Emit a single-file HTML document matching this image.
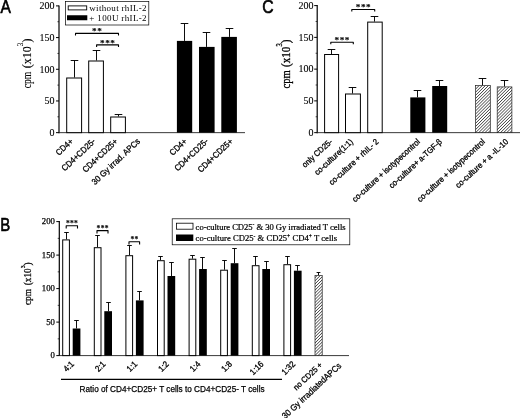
<!DOCTYPE html>
<html><head><meta charset="utf-8"><title>Figure</title>
<style>html,body{margin:0;padding:0;background:#fff}svg{display:block}</style></head>
<body><svg width="520" height="418" viewBox="0 0 520 418">
<rect width="520" height="418" fill="#fff"/>
<defs><pattern id="hatch" width="2.2" height="2.2" patternUnits="userSpaceOnUse" patternTransform="rotate(-45)"><rect width="2.2" height="2.2" fill="#fff"/><line x1="0" y1="1.1" x2="2.2" y2="1.1" stroke="#444" stroke-width="0.75"/></pattern></defs>
<text x="0.6" y="12.6" font-family='"Liberation Sans", sans-serif' font-size="18" text-anchor="start" stroke="#000" stroke-width="0.6" textLength="10.4" lengthAdjust="spacingAndGlyphs">A</text>
<line x1="59" y1="5.4" x2="59" y2="133.15" stroke="#000" stroke-width="1.2"/>
<line x1="56" y1="5.9" x2="59" y2="5.9" stroke="#000" stroke-width="1.0"/>
<text x="54.4" y="9.200000000000001" font-family='"Liberation Serif", serif' font-size="10" text-anchor="end" stroke="#000" stroke-width="0.1">200</text>
<line x1="56" y1="37.5875" x2="59" y2="37.5875" stroke="#000" stroke-width="1.0"/>
<text x="54.4" y="40.887499999999996" font-family='"Liberation Serif", serif' font-size="10" text-anchor="end" stroke="#000" stroke-width="0.1">150</text>
<line x1="56" y1="69.275" x2="59" y2="69.275" stroke="#000" stroke-width="1.0"/>
<text x="54.4" y="72.575" font-family='"Liberation Serif", serif' font-size="10" text-anchor="end" stroke="#000" stroke-width="0.1">100</text>
<line x1="56" y1="100.9625" x2="59" y2="100.9625" stroke="#000" stroke-width="1.0"/>
<text x="54.4" y="104.2625" font-family='"Liberation Serif", serif' font-size="10" text-anchor="end" stroke="#000" stroke-width="0.1">50</text>
<line x1="56" y1="132.65" x2="59" y2="132.65" stroke="#000" stroke-width="1.0"/>
<text x="54.4" y="135.95000000000002" font-family='"Liberation Serif", serif' font-size="10" text-anchor="end" stroke="#000" stroke-width="0.1">0</text>
<line x1="57.4" y1="21.74375" x2="59" y2="21.74375" stroke="#000" stroke-width="0.7"/>
<line x1="57.4" y1="53.43125" x2="59" y2="53.43125" stroke="#000" stroke-width="0.7"/>
<line x1="57.4" y1="85.11875" x2="59" y2="85.11875" stroke="#000" stroke-width="0.7"/>
<line x1="57.4" y1="116.80625" x2="59" y2="116.80625" stroke="#000" stroke-width="0.7"/>
<line x1="59" y1="132.65" x2="245" y2="132.65" stroke="#222" stroke-width="0.9"/>
<text x="30.8" y="88.3" font-family='"Liberation Serif", serif' font-size="12" text-anchor="start" transform="rotate(-90 30.8 88.3)" textLength="16.6" lengthAdjust="spacingAndGlyphs" stroke="#000" stroke-width="0.1">cpm</text>
<text x="30.8" y="68.2" font-family='"Liberation Serif", serif' font-size="12" text-anchor="start" transform="rotate(-90 30.8 68.2)" textLength="29.6" lengthAdjust="spacingAndGlyphs" stroke="#000" stroke-width="0.1">(x10<tspan font-size="7.2" dy="-8.2">3</tspan><tspan dy="8.2">)</tspan></text>
<line x1="74.5" y1="60.5" x2="74.5" y2="77.5" stroke="#000" stroke-width="0.95"/>
<line x1="70.7" y1="60.5" x2="78.3" y2="60.5" stroke="#000" stroke-width="0.95"/>
<rect x="66.7" y="78.0" width="14.899999999999991" height="54.650000000000006" fill="#fff" stroke="#000" stroke-width="1"/>
<line x1="96.5" y1="50.5" x2="96.5" y2="60.5" stroke="#000" stroke-width="0.95"/>
<line x1="92.7" y1="50.5" x2="100.3" y2="50.5" stroke="#000" stroke-width="0.95"/>
<rect x="88.7" y="61.0" width="14.700000000000003" height="71.65" fill="#fff" stroke="#000" stroke-width="1"/>
<line x1="118.5" y1="114.5" x2="118.5" y2="116.5" stroke="#000" stroke-width="0.95"/>
<line x1="114.7" y1="114.5" x2="122.3" y2="114.5" stroke="#000" stroke-width="0.95"/>
<rect x="110.7" y="117.0" width="14.700000000000003" height="15.650000000000006" fill="#fff" stroke="#000" stroke-width="1"/>
<line x1="184.5" y1="23.5" x2="184.5" y2="40.9" stroke="#000" stroke-width="0.95"/>
<line x1="180.7" y1="23.5" x2="188.3" y2="23.5" stroke="#000" stroke-width="0.95"/>
<rect x="176.9" y="40.9" width="15.299999999999983" height="91.75" fill="#000"/>
<line x1="206.5" y1="32.5" x2="206.5" y2="46.9" stroke="#000" stroke-width="0.95"/>
<line x1="202.7" y1="32.5" x2="210.3" y2="32.5" stroke="#000" stroke-width="0.95"/>
<rect x="199" y="46.9" width="15.599999999999994" height="85.75" fill="#000"/>
<line x1="229.5" y1="28.5" x2="229.5" y2="36.9" stroke="#000" stroke-width="0.95"/>
<line x1="225.7" y1="28.5" x2="233.3" y2="28.5" stroke="#000" stroke-width="0.95"/>
<rect x="221.3" y="36.9" width="15.599999999999994" height="95.75" fill="#000"/>
<rect x="65.4" y="1.5" width="83.4" height="23.5" fill="#fff" stroke="#000" stroke-width="0.7"/>
<rect x="68.2" y="5.9" width="18.5" height="4" fill="#fff" stroke="#000" stroke-width="0.9"/>
<rect x="67" y="15.25" width="20.3" height="5" fill="#000"/>
<text x="89.3" y="10.5" font-family='"Liberation Serif", serif' font-size="9.0" text-anchor="start" textLength="57.3" lengthAdjust="spacing" stroke="none">without rhIL-2</text>
<text x="89.3" y="20.8" font-family='"Liberation Serif", serif' font-size="9.0" text-anchor="start" textLength="57.3" lengthAdjust="spacing" stroke="none">+ 100U rhIL-2</text>
<polyline points="75.5,35.4 75.5,33.4 118.5,33.4 118.5,35.4" fill="none" stroke="#000" stroke-width="1.1" stroke-linejoin="round"/>
<text x="97.2" y="34.0" font-family='"Liberation Serif", serif' font-size="9.2" text-anchor="middle" font-weight="bold" stroke="#000" stroke-width="0.1" letter-spacing="0.5">**</text>
<polyline points="96.6,46.9 96.6,44.9 118.5,44.9 118.5,46.9" fill="none" stroke="#000" stroke-width="1.1" stroke-linejoin="round"/>
<text x="107.75" y="45.5" font-family='"Liberation Serif", serif' font-size="9.2" text-anchor="middle" font-weight="bold" stroke="#000" stroke-width="0.1" letter-spacing="0.5">***</text>
<text x="0" y="0" font-family='"Liberation Sans", sans-serif' font-size="8.56" text-anchor="end" transform="translate(73.7 142.05) rotate(-43.5) scale(0.9174 1)"  stroke="#000" stroke-width="0.3">CD4+</text>
<text x="0" y="0" font-family='"Liberation Sans", sans-serif' font-size="8.56" text-anchor="end" transform="translate(96 142.05) rotate(-43.5) scale(0.9174 1)"  stroke="#000" stroke-width="0.3">CD4+CD25-</text>
<text x="0" y="0" font-family='"Liberation Sans", sans-serif' font-size="8.56" text-anchor="end" transform="translate(118.3 142.05) rotate(-43.5) scale(0.9174 1)"  stroke="#000" stroke-width="0.3">CD4+CD25+</text>
<text x="0" y="0" font-family='"Liberation Sans", sans-serif' font-size="8.56" text-anchor="end" transform="translate(140.6 142.05) rotate(-43.5) scale(0.9174 1)"  stroke="#000" stroke-width="0.3">30 Gy irrad. APCs</text>
<text x="0" y="0" font-family='"Liberation Sans", sans-serif' font-size="8.56" text-anchor="end" transform="translate(187.5 142.05) rotate(-43.5) scale(0.9174 1)"  stroke="#000" stroke-width="0.3">CD4+</text>
<text x="0" y="0" font-family='"Liberation Sans", sans-serif' font-size="8.56" text-anchor="end" transform="translate(208.8 142.05) rotate(-43.5) scale(0.9174 1)"  stroke="#000" stroke-width="0.3">CD4+CD25-</text>
<text x="0" y="0" font-family='"Liberation Sans", sans-serif' font-size="8.56" text-anchor="end" transform="translate(233.5 142.05) rotate(-43.5) scale(0.9174 1)"  stroke="#000" stroke-width="0.3">CD4+CD25+</text>
<text x="262.2" y="12.9" font-family='"Liberation Sans", sans-serif' font-size="18.3" text-anchor="start" stroke="#000" stroke-width="0.6" textLength="11.4" lengthAdjust="spacingAndGlyphs">C</text>
<line x1="317.2" y1="5.1" x2="317.2" y2="133.15" stroke="#000" stroke-width="1.2"/>
<line x1="314.2" y1="5.6" x2="317.2" y2="5.6" stroke="#000" stroke-width="1.0"/>
<text x="313.5" y="8.9" font-family='"Liberation Serif", serif' font-size="10" text-anchor="end" stroke="#000" stroke-width="0.1">200</text>
<line x1="314.2" y1="37.362500000000004" x2="317.2" y2="37.362500000000004" stroke="#000" stroke-width="1.0"/>
<text x="313.5" y="40.6625" font-family='"Liberation Serif", serif' font-size="10" text-anchor="end" stroke="#000" stroke-width="0.1">150</text>
<line x1="314.2" y1="69.125" x2="317.2" y2="69.125" stroke="#000" stroke-width="1.0"/>
<text x="313.5" y="72.425" font-family='"Liberation Serif", serif' font-size="10" text-anchor="end" stroke="#000" stroke-width="0.1">100</text>
<line x1="314.2" y1="100.8875" x2="317.2" y2="100.8875" stroke="#000" stroke-width="1.0"/>
<text x="313.5" y="104.1875" font-family='"Liberation Serif", serif' font-size="10" text-anchor="end" stroke="#000" stroke-width="0.1">50</text>
<line x1="314.2" y1="132.65" x2="317.2" y2="132.65" stroke="#000" stroke-width="1.0"/>
<text x="313.5" y="135.95000000000002" font-family='"Liberation Serif", serif' font-size="10" text-anchor="end" stroke="#000" stroke-width="0.1">0</text>
<line x1="315.59999999999997" y1="21.481250000000003" x2="317.2" y2="21.481250000000003" stroke="#000" stroke-width="0.7"/>
<line x1="315.59999999999997" y1="53.243750000000006" x2="317.2" y2="53.243750000000006" stroke="#000" stroke-width="0.7"/>
<line x1="315.59999999999997" y1="85.00625" x2="317.2" y2="85.00625" stroke="#000" stroke-width="0.7"/>
<line x1="315.59999999999997" y1="116.76875000000001" x2="317.2" y2="116.76875000000001" stroke="#000" stroke-width="0.7"/>
<line x1="317.2" y1="132.65" x2="520" y2="132.65" stroke="#222" stroke-width="0.9"/>
<text x="290.2" y="88.5" font-family='"Liberation Serif", serif' font-size="12" text-anchor="start" transform="rotate(-90 290.2 88.5)" textLength="18.2" lengthAdjust="spacingAndGlyphs" stroke="#000" stroke-width="0.3">cpm</text>
<text x="290.2" y="66.9" font-family='"Liberation Serif", serif' font-size="12" text-anchor="start" transform="rotate(-90 290.2 66.9)" textLength="27.3" lengthAdjust="spacingAndGlyphs" stroke="#000" stroke-width="0.3">(x10<tspan font-size="7.2" dy="-8.2">3</tspan><tspan dy="8.2">)</tspan></text>
<line x1="331.5" y1="49.5" x2="331.5" y2="54" stroke="#000" stroke-width="0.95"/>
<line x1="327.7" y1="49.5" x2="335.3" y2="49.5" stroke="#000" stroke-width="0.95"/>
<rect x="324.6" y="54.5" width="14.0" height="78.15" fill="#fff" stroke="#000" stroke-width="1"/>
<line x1="352.5" y1="87.5" x2="352.5" y2="93.5" stroke="#000" stroke-width="0.95"/>
<line x1="348.7" y1="87.5" x2="356.3" y2="87.5" stroke="#000" stroke-width="0.95"/>
<rect x="345.5" y="94.0" width="14.899999999999977" height="38.650000000000006" fill="#fff" stroke="#000" stroke-width="1"/>
<line x1="374.5" y1="16.5" x2="374.5" y2="21.6" stroke="#000" stroke-width="0.95"/>
<line x1="370.7" y1="16.5" x2="378.3" y2="16.5" stroke="#000" stroke-width="0.95"/>
<rect x="367.7" y="22.1" width="14.5" height="110.55000000000001" fill="#fff" stroke="#000" stroke-width="1"/>
<line x1="417.5" y1="90.5" x2="417.5" y2="97.4" stroke="#000" stroke-width="0.95"/>
<line x1="413.7" y1="90.5" x2="421.3" y2="90.5" stroke="#000" stroke-width="0.95"/>
<rect x="410.3" y="97.4" width="15.099999999999966" height="35.25" fill="#000"/>
<line x1="439.5" y1="80.5" x2="439.5" y2="86" stroke="#000" stroke-width="0.95"/>
<line x1="435.7" y1="80.5" x2="443.3" y2="80.5" stroke="#000" stroke-width="0.95"/>
<rect x="432.2" y="86" width="15.0" height="46.650000000000006" fill="#000"/>
<line x1="482.5" y1="78.5" x2="482.5" y2="85.3" stroke="#000" stroke-width="0.95"/>
<line x1="478.7" y1="78.5" x2="486.3" y2="78.5" stroke="#000" stroke-width="0.95"/>
<rect x="475.6" y="85.6" width="14.700000000000012" height="47.05000000000001" fill="url(#hatch)" stroke="#222" stroke-width="0.7"/>
<line x1="504.5" y1="80.5" x2="504.5" y2="86.6" stroke="#000" stroke-width="0.95"/>
<line x1="500.7" y1="80.5" x2="508.3" y2="80.5" stroke="#000" stroke-width="0.95"/>
<rect x="497.2" y="86.89999999999999" width="14.700000000000069" height="45.750000000000014" fill="url(#hatch)" stroke="#222" stroke-width="0.7"/>
<polyline points="330.8,44.2 330.8,42.2 353.3,42.2 353.3,44.2" fill="none" stroke="#000" stroke-width="1.1" stroke-linejoin="round"/>
<text x="342.25" y="42.800000000000004" font-family='"Liberation Serif", serif' font-size="9.2" text-anchor="middle" font-weight="bold" stroke="#000" stroke-width="0.1" letter-spacing="0.5">***</text>
<polyline points="351.8,11.5 351.8,9.5 374.7,9.5 374.7,11.5" fill="none" stroke="#000" stroke-width="1.1" stroke-linejoin="round"/>
<text x="363.45" y="10.1" font-family='"Liberation Serif", serif' font-size="9.2" text-anchor="middle" font-weight="bold" stroke="#000" stroke-width="0.1" letter-spacing="0.5">***</text>
<text x="0" y="0" font-family='"Liberation Sans", sans-serif' font-size="8.28" text-anchor="end" transform="translate(333.0 142.45000000000002) rotate(-42.5) scale(0.9174 1)"  stroke="#000" stroke-width="0.3">only CD25-</text>
<text x="0" y="0" font-family='"Liberation Sans", sans-serif' font-size="8.28" text-anchor="end" transform="translate(353.6 142.45000000000002) rotate(-42.5) scale(0.9174 1)"  stroke="#000" stroke-width="0.3">co-culture(1:1)</text>
<text x="0" y="0" font-family='"Liberation Sans", sans-serif' font-size="8.28" text-anchor="end" transform="translate(379.1 142.45000000000002) rotate(-42.5) scale(0.9174 1)"  stroke="#000" stroke-width="0.3">co-culture + rhIL- 2</text>
<text x="0" y="0" font-family='"Liberation Sans", sans-serif' font-size="8.28" text-anchor="end" transform="translate(420.6 142.45000000000002) rotate(-42.5) scale(0.9174 1)"  stroke="#000" stroke-width="0.3">co-culture + isotypecontrol</text>
<text x="0" y="0" font-family='"Liberation Sans", sans-serif' font-size="8.28" text-anchor="end" transform="translate(442.6 142.45000000000002) rotate(-42.5) scale(0.9174 1)"  stroke="#000" stroke-width="0.3">co-culture+ a-TGF-β</text>
<text x="0" y="0" font-family='"Liberation Sans", sans-serif' font-size="8.28" text-anchor="end" transform="translate(485.6 142.45000000000002) rotate(-42.5) scale(0.9174 1)"  stroke="#000" stroke-width="0.3">co-culture + isotypecontrol</text>
<text x="0" y="0" font-family='"Liberation Sans", sans-serif' font-size="8.28" text-anchor="end" transform="translate(508.8 142.45000000000002) rotate(-42.5) scale(0.9174 1)"  stroke="#000" stroke-width="0.3">co-culture + a -IL-10</text>
<text x="0.2" y="231.4" font-family='"Liberation Sans", sans-serif' font-size="18" text-anchor="start" stroke="#000" stroke-width="0.6" textLength="10" lengthAdjust="spacingAndGlyphs">B</text>
<line x1="59.3" y1="221.1" x2="59.3" y2="356.1" stroke="#000" stroke-width="1.2"/>
<line x1="56.3" y1="221.6" x2="59.3" y2="221.6" stroke="#000" stroke-width="1.0"/>
<text x="54.9" y="224.471" font-family='"Liberation Serif", serif' font-size="8.7" text-anchor="end" stroke="#000" stroke-width="0.25">200</text>
<line x1="56.3" y1="255.1" x2="59.3" y2="255.1" stroke="#000" stroke-width="1.0"/>
<text x="54.9" y="257.971" font-family='"Liberation Serif", serif' font-size="8.7" text-anchor="end" stroke="#000" stroke-width="0.25">150</text>
<line x1="56.3" y1="288.6" x2="59.3" y2="288.6" stroke="#000" stroke-width="1.0"/>
<text x="54.9" y="291.471" font-family='"Liberation Serif", serif' font-size="8.7" text-anchor="end" stroke="#000" stroke-width="0.25">100</text>
<line x1="56.3" y1="322.1" x2="59.3" y2="322.1" stroke="#000" stroke-width="1.0"/>
<text x="54.9" y="324.971" font-family='"Liberation Serif", serif' font-size="8.7" text-anchor="end" stroke="#000" stroke-width="0.25">50</text>
<line x1="56.3" y1="355.6" x2="59.3" y2="355.6" stroke="#000" stroke-width="1.0"/>
<text x="54.9" y="358.471" font-family='"Liberation Serif", serif' font-size="8.7" text-anchor="end" stroke="#000" stroke-width="0.25">0</text>
<line x1="57.699999999999996" y1="238.35" x2="59.3" y2="238.35" stroke="#000" stroke-width="0.7"/>
<line x1="57.699999999999996" y1="271.85" x2="59.3" y2="271.85" stroke="#000" stroke-width="0.7"/>
<line x1="57.699999999999996" y1="305.35" x2="59.3" y2="305.35" stroke="#000" stroke-width="0.7"/>
<line x1="57.699999999999996" y1="338.85" x2="59.3" y2="338.85" stroke="#000" stroke-width="0.7"/>
<line x1="59.3" y1="355.6" x2="349" y2="355.6" stroke="#222" stroke-width="0.9"/>
<text x="31.3" y="305.1" font-family='"Liberation Serif", serif' font-size="10.8" text-anchor="start" transform="rotate(-90 31.3 305.1)" textLength="16" lengthAdjust="spacingAndGlyphs" stroke="#000" stroke-width="0.25">cpm</text>
<text x="31.3" y="285.2" font-family='"Liberation Serif", serif' font-size="10.8" text-anchor="start" transform="rotate(-90 31.3 285.2)" textLength="22.9" lengthAdjust="spacingAndGlyphs" stroke="#000" stroke-width="0.25">(x10<tspan font-size="6.8" dy="-6">3</tspan><tspan dy="6">)</tspan></text>
<line x1="66.5" y1="232.5" x2="66.5" y2="239.4" stroke="#000" stroke-width="0.95"/>
<line x1="64.2" y1="232.5" x2="68.8" y2="232.5" stroke="#000" stroke-width="0.95"/>
<rect x="62.7" y="239.9" width="6.700000000000003" height="115.70000000000002" fill="#fff" stroke="#000" stroke-width="1"/>
<line x1="76.5" y1="320.5" x2="76.5" y2="328.5" stroke="#000" stroke-width="0.95"/>
<line x1="74.2" y1="320.5" x2="78.8" y2="320.5" stroke="#000" stroke-width="0.95"/>
<rect x="72.7" y="328.5" width="7.700000000000003" height="27.100000000000023" fill="#000"/>
<text x="0" y="0" font-family='"Liberation Sans", sans-serif' font-size="8.61" text-anchor="end" transform="translate(74.60000000000001 364.6) rotate(-45) scale(0.9174 1)" stroke="#000" stroke-width="0.3">4:1</text>
<line x1="97.5" y1="235.5" x2="97.5" y2="247.2" stroke="#000" stroke-width="0.95"/>
<line x1="95.2" y1="235.5" x2="99.8" y2="235.5" stroke="#000" stroke-width="0.95"/>
<rect x="94.30000000000001" y="247.7" width="6.700000000000003" height="107.90000000000003" fill="#fff" stroke="#000" stroke-width="1"/>
<line x1="108.5" y1="302.5" x2="108.5" y2="311.2" stroke="#000" stroke-width="0.95"/>
<line x1="106.2" y1="302.5" x2="110.8" y2="302.5" stroke="#000" stroke-width="0.95"/>
<rect x="104.30000000000001" y="311.2" width="7.700000000000003" height="44.400000000000034" fill="#000"/>
<text x="0" y="0" font-family='"Liberation Sans", sans-serif' font-size="8.61" text-anchor="end" transform="translate(106.20000000000002 364.6) rotate(-45) scale(0.9174 1)" stroke="#000" stroke-width="0.3">2:1</text>
<line x1="129.5" y1="245.5" x2="129.5" y2="255.2" stroke="#000" stroke-width="0.95"/>
<line x1="127.2" y1="245.5" x2="131.8" y2="245.5" stroke="#000" stroke-width="0.95"/>
<rect x="125.9" y="255.7" width="6.699999999999989" height="99.90000000000003" fill="#fff" stroke="#000" stroke-width="1"/>
<line x1="139.5" y1="291.5" x2="139.5" y2="300.4" stroke="#000" stroke-width="0.95"/>
<line x1="137.2" y1="291.5" x2="141.8" y2="291.5" stroke="#000" stroke-width="0.95"/>
<rect x="135.9" y="300.4" width="7.699999999999989" height="55.200000000000045" fill="#000"/>
<text x="0" y="0" font-family='"Liberation Sans", sans-serif' font-size="8.61" text-anchor="end" transform="translate(137.8 364.6) rotate(-45) scale(0.9174 1)" stroke="#000" stroke-width="0.3">1:1</text>
<line x1="160.5" y1="256.5" x2="160.5" y2="260.2" stroke="#000" stroke-width="0.95"/>
<line x1="158.2" y1="256.5" x2="162.8" y2="256.5" stroke="#000" stroke-width="0.95"/>
<rect x="157.5" y="260.7" width="6.699999999999989" height="94.90000000000003" fill="#fff" stroke="#000" stroke-width="1"/>
<line x1="171.5" y1="262.5" x2="171.5" y2="276" stroke="#000" stroke-width="0.95"/>
<line x1="169.2" y1="262.5" x2="173.8" y2="262.5" stroke="#000" stroke-width="0.95"/>
<rect x="167.5" y="276" width="7.699999999999989" height="79.60000000000002" fill="#000"/>
<text x="0" y="0" font-family='"Liberation Sans", sans-serif' font-size="8.61" text-anchor="end" transform="translate(169.4 364.6) rotate(-45) scale(0.9174 1)" stroke="#000" stroke-width="0.3">1:2</text>
<line x1="192.5" y1="255.5" x2="192.5" y2="258.7" stroke="#000" stroke-width="0.95"/>
<line x1="190.2" y1="255.5" x2="194.8" y2="255.5" stroke="#000" stroke-width="0.95"/>
<rect x="189.10000000000002" y="259.2" width="6.699999999999989" height="96.40000000000003" fill="#fff" stroke="#000" stroke-width="1"/>
<line x1="202.5" y1="257.5" x2="202.5" y2="269" stroke="#000" stroke-width="0.95"/>
<line x1="200.2" y1="257.5" x2="204.8" y2="257.5" stroke="#000" stroke-width="0.95"/>
<rect x="199.10000000000002" y="269" width="7.699999999999989" height="86.60000000000002" fill="#000"/>
<text x="0" y="0" font-family='"Liberation Sans", sans-serif' font-size="8.61" text-anchor="end" transform="translate(201.00000000000003 364.6) rotate(-45) scale(0.9174 1)" stroke="#000" stroke-width="0.3">1:4</text>
<line x1="224.5" y1="260.5" x2="224.5" y2="269.7" stroke="#000" stroke-width="0.95"/>
<line x1="222.2" y1="260.5" x2="226.8" y2="260.5" stroke="#000" stroke-width="0.95"/>
<rect x="220.7" y="270.2" width="6.699999999999989" height="85.40000000000003" fill="#fff" stroke="#000" stroke-width="1"/>
<line x1="234.5" y1="248.5" x2="234.5" y2="263.2" stroke="#000" stroke-width="0.95"/>
<line x1="232.2" y1="248.5" x2="236.8" y2="248.5" stroke="#000" stroke-width="0.95"/>
<rect x="230.7" y="263.2" width="7.699999999999989" height="92.40000000000003" fill="#000"/>
<text x="0" y="0" font-family='"Liberation Sans", sans-serif' font-size="8.61" text-anchor="end" transform="translate(232.6 364.6) rotate(-45) scale(0.9174 1)" stroke="#000" stroke-width="0.3">1:8</text>
<line x1="255.5" y1="256.5" x2="255.5" y2="265.2" stroke="#000" stroke-width="0.95"/>
<line x1="253.2" y1="256.5" x2="257.8" y2="256.5" stroke="#000" stroke-width="0.95"/>
<rect x="252.3" y="265.7" width="6.699999999999989" height="89.90000000000003" fill="#fff" stroke="#000" stroke-width="1"/>
<line x1="266.5" y1="261.5" x2="266.5" y2="269" stroke="#000" stroke-width="0.95"/>
<line x1="264.2" y1="261.5" x2="268.8" y2="261.5" stroke="#000" stroke-width="0.95"/>
<rect x="262.3" y="269" width="7.699999999999989" height="86.60000000000002" fill="#000"/>
<text x="0" y="0" font-family='"Liberation Sans", sans-serif' font-size="8.61" text-anchor="end" transform="translate(264.2 364.6) rotate(-45) scale(0.9174 1)" stroke="#000" stroke-width="0.3">1:16</text>
<line x1="287.5" y1="256.5" x2="287.5" y2="264.2" stroke="#000" stroke-width="0.95"/>
<line x1="285.2" y1="256.5" x2="289.8" y2="256.5" stroke="#000" stroke-width="0.95"/>
<rect x="283.90000000000003" y="264.7" width="6.699999999999989" height="90.90000000000003" fill="#fff" stroke="#000" stroke-width="1"/>
<line x1="297.5" y1="265.5" x2="297.5" y2="270.7" stroke="#000" stroke-width="0.95"/>
<line x1="295.2" y1="265.5" x2="299.8" y2="265.5" stroke="#000" stroke-width="0.95"/>
<rect x="293.90000000000003" y="270.7" width="7.699999999999989" height="84.90000000000003" fill="#000"/>
<text x="0" y="0" font-family='"Liberation Sans", sans-serif' font-size="8.61" text-anchor="end" transform="translate(295.8 364.6) rotate(-45) scale(0.9174 1)" stroke="#000" stroke-width="0.3">1:32</text>
<line x1="318.5" y1="272.5" x2="318.5" y2="275.3" stroke="#000" stroke-width="0.95"/>
<line x1="316.6" y1="272.5" x2="320.4" y2="272.5" stroke="#000" stroke-width="0.95"/>
<rect x="315.0" y="275.6" width="7.200000000000012" height="80.00000000000001" fill="url(#hatch)" stroke="#222" stroke-width="0.7"/>
<text x="0" y="0" font-family='"Liberation Sans", sans-serif' font-size="8.28" text-anchor="end" transform="translate(323 365.6) rotate(-43.5) scale(0.9174 1)"  stroke="#000" stroke-width="0.3">no CD25 +</text>
<text x="0" y="0" font-family='"Liberation Sans", sans-serif' font-size="8.72" text-anchor="end" transform="translate(341.8 366.6) rotate(-43) scale(0.9174 1)"  stroke="#000" stroke-width="0.3">30 Gy irradiatedAPCs</text>
<polyline points="66.2,228.60000000000002 66.2,225.8 77.5,225.8 77.5,228.60000000000002" fill="none" stroke="#000" stroke-width="1.1" stroke-linejoin="round"/>
<text x="72.05" y="226.4" font-family='"Liberation Serif", serif' font-size="7.6" text-anchor="middle" font-weight="bold" stroke="#000" stroke-width="0.1" letter-spacing="0.3">***</text>
<polyline points="97,233.4 97,230.6 108,230.6 108,233.4" fill="none" stroke="#000" stroke-width="1.1" stroke-linejoin="round"/>
<text x="102.7" y="231.2" font-family='"Liberation Serif", serif' font-size="7.6" text-anchor="middle" font-weight="bold" stroke="#000" stroke-width="0.1" letter-spacing="0.3">***</text>
<polyline points="129,244.4 129,241.8 139.6,241.8 139.6,244.4" fill="none" stroke="#000" stroke-width="1.1" stroke-linejoin="round"/>
<text x="134.5" y="242.4" font-family='"Liberation Serif", serif' font-size="7.6" text-anchor="middle" font-weight="bold" stroke="#000" stroke-width="0.1" letter-spacing="0.3">**</text>
<line x1="61" y1="379.4" x2="282" y2="379.4" stroke="#000" stroke-width="1.4"/>
<text x="79.6" y="391.6" font-family='"Liberation Sans", sans-serif' font-size="8.9" text-anchor="start" textLength="185" lengthAdjust="spacingAndGlyphs" stroke="#000" stroke-width="0.25">Ratio of CD4+CD25+ T cells to CD4+CD25- T cells</text>
<rect x="172.2" y="218.8" width="177.6" height="26" fill="#fff" stroke="#000" stroke-width="0.7"/>
<rect x="176.5" y="223.2" width="16.5" height="6" fill="#fff" stroke="#000" stroke-width="0.8"/>
<rect x="176" y="234.5" width="17.3" height="6.5" fill="#000"/>
<text x="195.6" y="229.6" font-family='"Liberation Serif", serif' font-size="8.6" text-anchor="start" textLength="150" lengthAdjust="spacing" stroke="#000" stroke-width="0.22">co-culture CD25<tspan font-size="5.5" dy="-3.2">-</tspan><tspan dy="3.2"> &amp; 30 Gy irradiated T cells</tspan></text>
<text x="195.6" y="240.8" font-family='"Liberation Serif", serif' font-size="8.6" text-anchor="start" textLength="141.5" lengthAdjust="spacing" stroke="#000" stroke-width="0.22">co-culture CD25<tspan font-size="5.5" dy="-3.2">-</tspan><tspan dy="3.2"> &amp; CD25</tspan><tspan font-size="5.5" dy="-3.2">+</tspan><tspan dy="3.2"> CD4</tspan><tspan font-size="5.5" dy="-3.2">+</tspan><tspan dy="3.2"> T cells</tspan></text>
</svg></body></html>
